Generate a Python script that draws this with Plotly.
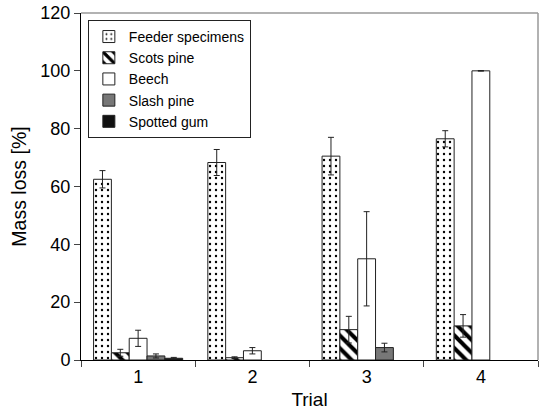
import plotly.graph_objects as go

trials = ["1", "2", "3", "4"]
series_names = ["Feeder specimens", "Scots pine", "Beech", "Slash pine", "Spotted gum"]
feeder = [62.5, 68.3, 70.5, 76.5]
feeder_err = [3.0, 4.5, 6.5, 2.8]
scots = [2.5, 0.8, 10.5, 11.8]
scots_err = [1.2, 0.3, 4.6, 3.9]
beech = [7.5, 3.2, 35.0, 100.0]
beech_err = [2.8, 1.1, 16.3, 0.1]
slash = [1.4, None, 4.3, None]
slash_err = [0.7, 0, 1.5, 0]
spotted = [0.6, None, None, None]
spotted_err = [0.3, 0, 0, 0]
y_ticks = [0, 20, 40, 60, 80, 100, 120]

values = [feeder, scots, beech, slash, spotted]
errors = [feeder_err, scots_err, beech_err, slash_err, spotted_err]
styles = [
    dict(color="white", pattern=dict(shape=".", fgcolor="black", bgcolor="white", size=6, solidity=0.12, fillmode="replace")),
    dict(color="white", pattern=dict(shape="\\", fgcolor="black", bgcolor="white", size=9, solidity=0.45, fillmode="replace")),
    dict(color="white"),
    dict(color="#777777"),
    dict(color="#111111"),
]

FONT = "Liberation Sans, Arial, Helvetica, sans-serif"
fig = go.Figure()
for name, v, e, st in zip(series_names, values, errors, styles):
    fig.add_trace(go.Bar(
        x=trials, y=v, name=name,
        marker=dict(line=dict(color="#222222", width=1), **st),
        error_y=dict(type="data", array=e, visible=True, color="#222222", thickness=1, width=3),
    ))

fig.update_layout(
    width=539, height=413,
    margin=dict(l=81, r=1, t=13, b=53, autoexpand=False),
    paper_bgcolor="white", plot_bgcolor="white",
    barmode="group", bargap=0.22, bargroupgap=0,
    font=dict(family=FONT, color="black"),
    showlegend=True,
    legend=dict(x=0.015, y=0.98, xanchor="left", yanchor="top",
                bgcolor="white", bordercolor="#222222", borderwidth=1,
                font=dict(size=14, family=FONT), itemwidth=30, tracegroupgap=0),
    xaxis=dict(
        type="category", tickson="boundaries", ticks="outside", ticklen=6, tickcolor="#444",
        showline=True, linecolor="black", linewidth=1, showgrid=False, automargin=False,
        tickfont=dict(size=18), title=dict(text="Trial", font=dict(size=19), standoff=7),
    ),
    yaxis=dict(
        range=[0, 120], tickvals=y_ticks, ticks="outside", ticklen=6, tickcolor="#444",
        showline=True, linecolor="black", linewidth=1, showgrid=False, zeroline=False, automargin=False,
        tickfont=dict(size=18), title=dict(text="Mass loss [%]", font=dict(size=19.5), standoff=8),
    ),
    shapes=[
        dict(type="line", xref="paper", yref="paper", x0=0, x1=1, y0=1, y1=1, line=dict(color="#999999", width=1.5)),
        dict(type="line", xref="paper", yref="paper", x0=1, x1=1, y0=0, y1=1, line=dict(color="#999999", width=1.5)),
    ],
)
fig.write_html("out.html", config={"displayModeBar": False},
               post_script="document.body.style.margin='0';")
